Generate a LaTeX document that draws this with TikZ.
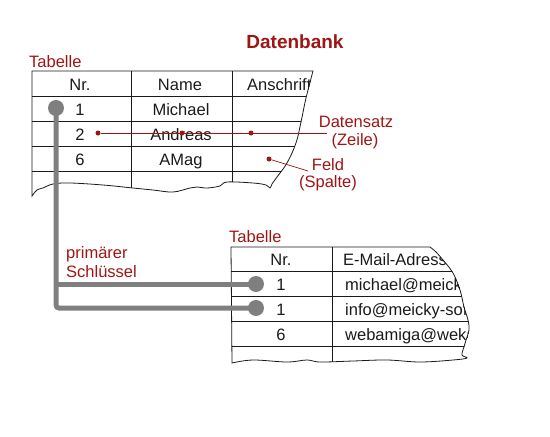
\documentclass[tikz,border=0pt]{standalone}
\usepackage{fontspec}
\setmainfont{Liberation Sans}
\usetikzlibrary{positioning, calc}
\definecolor{ink}{HTML}{1A1A1A}
\definecolor{dbred}{HTML}{A01414}
\definecolor{keygray}{HTML}{7F7F7F}
\tikzset{
  every node/.style = {font=\fontsize{16.5}{19}\selectfont, text=ink, inner sep=0pt},
  dbcell/.style     = {anchor=base},
  dbtext/.style     = {anchor=base west},
  dblabel/.style    = {text=dbred, anchor=base west},
  dbnote/.style     = {text=dbred, anchor=base},
  dbtitle/.style    = {text=dbred, anchor=base, font=\fontsize{19}{22}\selectfont\bfseries},
  dbgrid/.style     = {draw=ink, line width=0.8pt},
  dbdot/.style      = {circle, fill=dbred, inner sep=0pt, minimum size=5pt},
  dbhint/.style     = {draw=dbred, line width=0.7pt},
  dbkey/.style      = {circle, fill=keygray, inner sep=0pt, minimum size=16pt},
  dbkeyline/.style  = {draw=keygray, line width=5pt, rounded corners=3pt},
  % torn outlines of the two tables
  tornA/.style = {insert path={(32,71) -- (313,71)
      -- plot[smooth, tension=0.6] coordinates {(313,71) (306,98) (301,122) (296,143)
         (287,163) (277,177) (272,184) (270,188) (266,185) (253,183) (227,182) (220,186)
         (207,188) (197,187) (190,188) (173,192) (153,190) (133,188) (103,185) (70,183)
         (53,184) (43,188) (37,190) (32,196)} -- cycle}},
  tornB/.style = {insert path={(231,247) -- (430,247)
      -- plot[smooth, tension=0.6] coordinates {(430,247) (436,252) (443,260) (453,273)
         (460,290) (464,307) (468,320) (469,330) (466,340) (464,347) (462,355) (467,358)
         (453,360) (420,362) (387,360) (353,361) (320,362) (307,360) (287,362) (253,360)
         (232,363)} -- cycle}},
}

\begin{document}
\begin{tikzpicture}[x=1pt, y=-1pt]
\useasboundingbox (0,0) rectangle (550,437);

\node[dbtitle] (title) at (295,48) {Datenbank};

% Tabelle 1
\node[dblabel] (tabA) at (29,67) {Tabelle};
\begin{scope}
  \clip[tornA];
  \foreach \y in {96,121,146,171}{\draw[dbgrid] (32,\y) -- (330,\y);}
  \foreach \x in {131,232}{\draw[dbgrid] (\x,71) -- (\x,200);}
  \node[dbcell] (a-nr)  at (80,90)  {Nr.};
  \node[dbcell] (a-nm)  at (180,90) {Name};
  \node[dbtext] (a-an)  at (247,90) {Anschrift};
  \node[dbcell] (a-n1)  at (80,115)  {1};
  \node[dbcell] (a-m1)  at (181,115) {Michael};
  \node[dbcell] (a-n2)  at (80,140)  {2};
  \node[dbcell] (a-m2)  at (181,140) {Andreas};
  \node[dbcell] (a-n3)  at (80,165)  {6};
  \node[dbcell] (a-m3)  at (181,165) {AMag};
\end{scope}
\draw[dbgrid, tornA];

% Tabelle 2
\node[dblabel] (tabB) at (229,242) {Tabelle};
\begin{scope}
  \clip[tornB];
  \foreach \y in {271,296,321,346}{\draw[dbgrid] (231,\y) -- (480,\y);}
  \draw[dbgrid] (332,247) -- (332,370);
  \node[dbcell] (b-nr) at (281,265) {Nr.};
  \node[dbtext] (b-ml) at (343,265) {E-Mail-Adresse};
  \node[dbcell] (b-n1) at (281,290) {1};
  \node[dbtext] (b-m1) at (345,290) {michael@meicky};
  \node[dbcell] (b-n2) at (281,315) {1};
  \node[dbtext] (b-m2) at (345,315) {info@meicky-soft};
  \node[dbcell] (b-n3) at (281,340) {6};
  \node[dbtext] (b-m3) at (345,340) {webamiga@weka};
\end{scope}
\draw[dbgrid, tornB];

% Schluessel
\node[dbkey] (pk)  at (56,108) {};
\node[dbkey] (fk1) at (256,284) {};
\node[dbkey] (fk2) at (256,308) {};
\draw[dbkeyline] (pk.center) |- (fk2.center);
\draw[dbkeyline] (pk.center |- fk1.center) -- (fk1.center);
\node[dblabel] (pklbl)  at (66,258) {primärer};
\node[dblabel] (pklbl2) at (66,277) {Schlüssel};

% Datensatz / Feld
\node[dbdot] (rec1) at (98,133) {};
\node[dbdot] (rec2) at (182,133) {};
\node[dbdot] (rec3) at (251,133) {};
\coordinate (recend) at (327,133);
\draw[dbhint] (rec1) -- (recend);
\node[dbnote] (rec)  at (356,127) {Datensatz};
\node[dbnote] (rec') at (355,145) {(Zeile)};
\node[dbdot] (fld) at (269,159) {};
\coordinate (fldend) at (308,171);
\draw[dbhint] (fld) -- (fldend);
\node[dbnote] (feld)  at (328,170) {Feld};
\node[dbnote] (feld') at (328,187) {(Spalte)};
\end{tikzpicture}
\end{document}
